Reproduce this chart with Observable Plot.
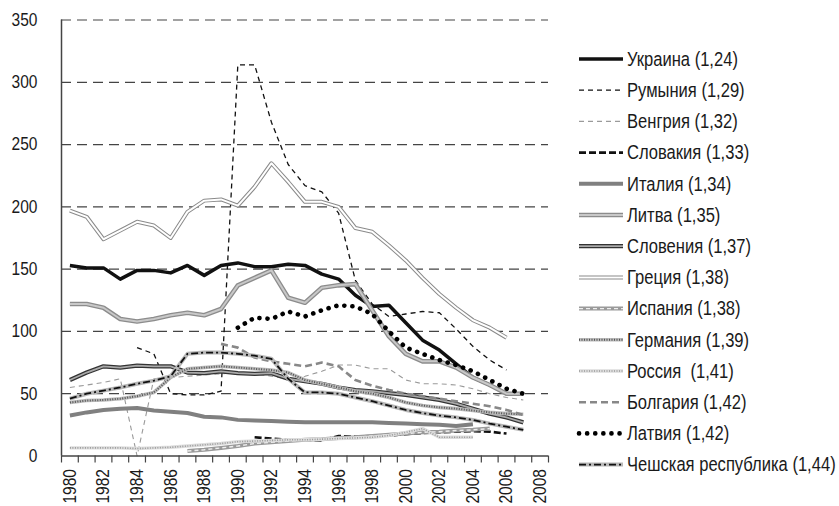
<!DOCTYPE html>
<html><head><meta charset="utf-8">
<script src="https://cdn.jsdelivr.net/npm/d3@7"></script>
<script src="https://cdn.jsdelivr.net/npm/@observablehq/plot@0.6"></script>
<style>
html,body{margin:0;padding:0;background:#fff;}
#wrap{position:relative;width:839px;height:506px;overflow:hidden;}
#chart{position:absolute;left:0;top:0;}
#legend{position:absolute;left:575px;top:0;}
</style></head><body><div id="wrap"><div id="chart"></div><div id="legend"></div></div>
<script>
const FONT = '"Liberation Sans", Arial, sans-serif';

// ---- data ----
const years = d3.range(1980, 2008);
const names = ["Украина (1,24)", "Румыния (1,29)", "Венгрия (1,32)", "Словакия (1,33)", "Италия (1,34)",
  "Литва (1,35)", "Словения (1,37)", "Греция (1,38)", "Испания (1,38)", "Германия (1,39)",
  "Россия  (1,41)", "Болгария (1,42)", "Латвия (1,42)", "Чешская республика (1,44)"];
const ukraine  = [153,151,151,142,149,149,147,153,145,153,155,152,152,154,153,146,142,129,120,121,107,93,85,74,63,57,50,50];
const romania  = [null,null,null,null,87,82,50,49,49,52,314,314,268,234,217,212,195,141,122,112,114,116,115,102,88,77,69,null];
const hungary  = [55,57,59,62,0,62,63,64,65,66,67,66,64,62,64,68,73,73,70,70,61,58,58,57,54,50,47,45];
const slovakia = [null,null,null,null,null,null,null,null,null,null,null,15,14,13,13,12.5,16,15.5,16,16.5,17.5,18.5,19,19.5,20,19.5,18,null];
const italy    = [32.5,35,37,38,38.5,36.5,35.5,34.5,31.5,31,29,28.5,28,27.5,27,27,27,27,27,26.5,26,25.5,25,24,25.5,null,null,null];
const lithuania= [122,122,119,110,108,110,113,115,113,118,137,143,149,127,123,135,137,138,117,96,82,76,76,71,63,57,50,50];
const slovenia = [61,67,72,71,72.5,72,72,67,66.5,68,66.5,66,66.5,62,60,58,55,53,52,50.5,49,47,45,42,38,34,31,27];
const greece   = [197,192,174,181,188,185,175,196,205,206,201,216,235,220,204,204,200,183,180,169,157,143,130,119,109,103,95,null];
const spain    = [null,null,null,null,null,null,null,4,5,6.5,8,10,11,12,13,13.5,14.5,15,16,17,18,19,19.5,20.5,21,22,null,null];
const germany  = [43,44.5,45,46,48,51,63,70,71,72,71,70,69,67,61,58,55,52,50,47,43,40.5,39,38,36.5,35,34,33.5];
const russia   = [6.5,6.5,6.5,6.5,6,6.5,7,8,9,10,11.5,12,12.5,13,13,13.5,14,14.5,15,16.5,19,22,15,15,15,null,null,null];
const bulgaria = [null,null,null,null,null,null,null,null,null,90,87,79,76,74,72,75,72,61,56.5,53,50,48,46,44,42,40,37,33];
const latvia   = [null,null,null,null,null,null,null,null,null,null,103,111,110,116,112,117,121,120,114,100,87,82,77,73,68,61,54,50];
const czech    = [46,50,52.5,55,58,60.5,64,82,83,83,82,80.5,78,62,51,51,50,47,44,40.5,37,34.5,32.5,31,29,26,23.5,21];
const yTicks = [0,50,100,150,200,250,300,350];
const xLabelYears = d3.range(1980, 2009, 2);

const seriesValues = [ukraine, romania, hungary, slovakia, italy, lithuania, slovenia, greece, spain, germany, russia, bulgaria, latvia, czech];

// ---- styles (layers per series) ----
const styles = [
  [{stroke:"#111", width:3.5}],
  [{stroke:"#111", width:1.3, dash:"5,4"}],
  [{stroke:"#9a9a9a", width:1.1, dash:"5,4"}],
  [{stroke:"#111", width:2.6, dash:"7,3"}],
  [{stroke:"#808080", width:4}],
  [{stroke:"#8c8c8c", width:4.6}, {stroke:"#c8c8c8", width:2}],
  [{stroke:"#333", width:4.2}, {stroke:"#aaa", width:1.8}],
  [{stroke:"#8a8a8a", width:4}, {stroke:"#fff", width:2}],
  [{stroke:"#9a9a9a", width:4}, {stroke:"#eee", width:1.4, dash:"4,3"}],
  [{stroke:"#bbb", width:3.6}, {stroke:"#555", width:2, dash:"1,1.5"}],
  [{stroke:"#ddd", width:3.4}, {stroke:"#999", width:1.6, dash:"1,1.5"}],
  [{stroke:"#888", width:2.6, dash:"7,4"}],
  [{stroke:"#000", width:4.6, dash:"0.1,8", cap:"round"}],
  [{stroke:"#b8b8b8", width:4}, {stroke:"#111", width:1.8, dash:"7,3,2,3"}]
];

const data = names.flatMap((name, k) =>
  years.map((year, i) => ({name, year, value: seriesValues[k][i]})).filter(d => d.value != null));

const lineMarks = names.flatMap((name, k) => styles[k].map(l =>
  Plot.line(data.filter(d => d.name === name), {
    x: "year", y: "value", stroke: l.stroke, strokeWidth: l.width,
    strokeDasharray: l.dash, strokeLinecap: l.cap || "butt", strokeLinejoin: "round"
  })));

const chart = Plot.plot({
  width: 560, height: 506,
  marginLeft: 61, marginRight: 12, marginTop: 19.5, marginBottom: 50.5,
  x: {domain: [1979.5, 2008.5], axis: null, label: null},
  y: {domain: [0, 350], axis: null, label: null},
  style: {fontFamily: FONT, fontSize: "18.5px", color: "#1a1a1a", background: "white", overflow: "visible"},
  marks: [
    Plot.gridY(yTicks.filter(v => v > 0), {stroke: "#444", strokeOpacity: 1, strokeWidth: 1.2, strokeDasharray: "10,6"}),
    ...lineMarks,
    Plot.ruleY([0], {stroke: "#444", strokeWidth: 1.5}),
    Plot.ruleX([1979.5], {stroke: "#444", strokeWidth: 1.5}),
    Plot.axisX(d3.range(1979.5, 2009, 1), {tickSize: 7, tickFormat: () => "", label: null, stroke: "#444", strokeWidth: 1.2}),
    Plot.axisX(xLabelYears, {tickSize: 0, tickRotate: -90, tickPadding: 13, fontSize: 18.5, label: null, fill: "#1a1a1a", tickFormat: d => String(d)}),
    Plot.axisY(yTicks, {tickSize: 0, tickPadding: 24, fontSize: 18.5, label: null, fill: "#1a1a1a"})
  ]
});
// narrow the glyphs (condensed look) around each text's own anchor
d3.select(chart).selectAll("text").each(function() {
  const t = d3.select(this);
  const x = +t.attr("x") || 0, y = +t.attr("y") || 0;
  const tr = t.attr("transform") || "";
  t.attr("transform", `${tr} translate(${x},${y}) scale(0.84,1) translate(${-x},${-y})`);
});
document.getElementById("chart").appendChild(chart);

// ---- legend ----
const lg = d3.select("#legend").append("svg").attr("width", 264).attr("height", 506)
  .style("font-family", FONT).style("font-size", "19.5px");
names.forEach((name, k) => {
  const g = lg.append("g").attr("transform", `translate(0,${59 + k * 31.2})`);
  styles[k].forEach(l => {
    g.append("line").attr("x1", 4).attr("x2", 48).attr("y1", 0).attr("y2", 0)
      .attr("stroke", l.stroke).attr("stroke-width", l.width)
      .attr("stroke-dasharray", l.dash || null).attr("stroke-linecap", l.cap || "butt");
  });
  g.append("g").attr("transform", "translate(52,0) scale(0.85,1)")
    .append("text").attr("x", 0).attr("y", 0).attr("dy", "0.35em").attr("fill", "#1a1a1a")
    .style("white-space", "pre").text(name);
});
</script></body></html>
